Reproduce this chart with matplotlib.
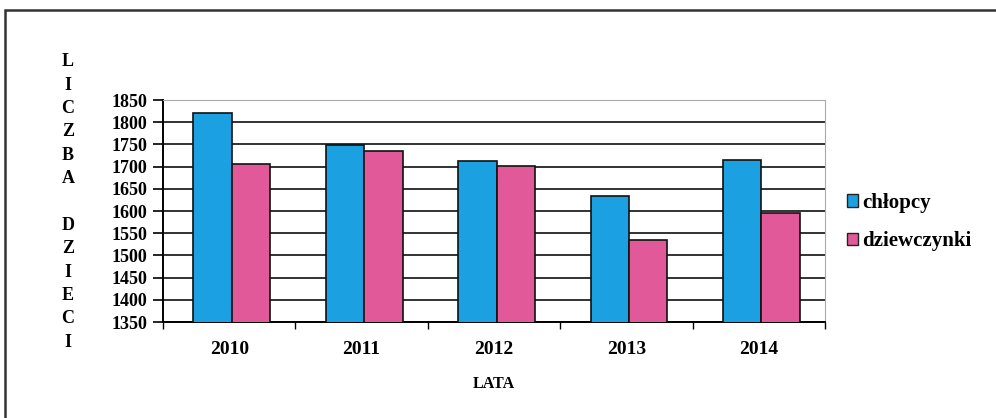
import matplotlib.pyplot as plt
import numpy as np
from matplotlib.patches import Rectangle, Patch

plt.rcParams["font.family"] = ["Liberation Serif", "DejaVu Serif"]

years = ["2010", "2011", "2012", "2013", "2014"]
boys = [1820, 1748, 1712, 1634, 1715]
girls = [1706, 1735, 1701, 1535, 1596]
series_names = ["chłopcy", "dziewczynki"]
y_ticks = list(range(1350, 1851, 50))

BLUE = "#1BA1E2"
PINK = "#E2599A"

fig = plt.figure(figsize=(9.96, 4.18), dpi=100)
ax = fig.add_axes([163 / 996, 96 / 418, 662 / 996, 222 / 418])

x = np.arange(len(years))
w = 0.29
ax.bar(x - w / 2 + 0.02, boys, w, color=BLUE, edgecolor="#111", linewidth=1.2, zorder=3)
ax.bar(x + w / 2 + 0.02, girls, w, color=PINK, edgecolor="#111", linewidth=1.2, zorder=3)

ax.set_xlim(-0.5, len(years) - 0.5)
ax.set_ylim(1350, 1850)
ax.set_yticks(y_ticks)
ax.set_yticklabels([str(v) for v in y_ticks], fontsize=13, fontweight="bold")
ax.set_xticks(x)
ax.set_xticklabels(years, fontsize=14, fontweight="bold")
ax.set_xticks(np.arange(len(years) + 1) - 0.5, minor=True)
ax.tick_params(axis="x", which="major", length=0, pad=14)
ax.tick_params(axis="x", which="minor", length=5, width=1, direction="out")
ax.tick_params(axis="y", length=7, width=1.2, pad=4)

ax.yaxis.grid(True, color="#222", linewidth=1.3, zorder=0)
ax.set_axisbelow(True)
for s in ["top", "right"]:
    ax.spines[s].set_color("#aaa")
    ax.spines[s].set_linewidth(0.8)
ax.spines["top"].set_linestyle((0, (2, 1)))
ax.spines["left"].set_linewidth(1.4)
ax.spines["bottom"].set_linewidth(1.4)

ax.set_xlabel("LATA", fontsize=11.5, fontweight="bold", labelpad=13)

fig.text(68 / 996, 1 - 202 / 418, "L\nI\nC\nZ\nB\nA\n\nD\nZ\nI\nE\nC\nI",
         ha="center", va="center", fontsize=13, linespacing=1.49, fontweight="bold")

handles = [Patch(facecolor=BLUE, edgecolor="#222", linewidth=1),
           Patch(facecolor=PINK, edgecolor="#222", linewidth=1)]
fig.legend(handles, series_names, loc="center left", bbox_to_anchor=(828 / 996, 1 - 222 / 418),
           frameon=False, handlelength=0.55, handleheight=0.55,
           handletextpad=0.2, labelspacing=0.9, prop={"weight": "bold", "size": 15})

fig.patches.append(Rectangle((5 / 996, -0.1), 1.2, 1 - 10 / 418 + 0.1, transform=fig.transFigure,
                             fill=False, edgecolor="#333", linewidth=1.8))

fig.savefig("out.png", dpi=100)
